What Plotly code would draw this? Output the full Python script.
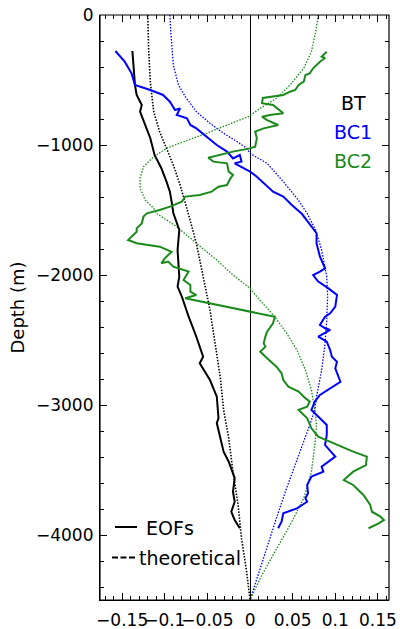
import plotly.graph_objects as go

# ---------------- data ----------------
bt_eof_x = [-0.138, -0.137, -0.135, -0.133, -0.127, -0.129, -0.123, -0.117, -0.112, -0.104,
            -0.098, -0.094, -0.092, -0.090, -0.083, -0.085, -0.083, -0.085, -0.080, -0.072,
            -0.063, -0.055, -0.059, -0.047, -0.039, -0.037, -0.039, -0.035, -0.031, -0.025,
            -0.021, -0.018, -0.020, -0.018, -0.022, -0.018, -0.012]
bt_eof_z = [-277, -385, -538, -615, -692, -744, -846, -948, -1077, -1179,
            -1282, -1359, -1436, -1523, -1654, -1808, -2013, -2090, -2167, -2321,
            -2475, -2628, -2679, -2808, -2936, -3102, -3138, -3254, -3359, -3436,
            -3513, -3562, -3667, -3744, -3821, -3885, -3948]

bc1_eof_x = [-0.158, -0.147, -0.139, -0.135, -0.117, -0.102, -0.094, -0.088, -0.082, -0.086,
             -0.074, -0.070, -0.063, -0.051, -0.039, -0.027, -0.020, -0.012, -0.010, -0.018,
             -0.004, 0.000, 0.008, 0.018, 0.027, 0.039, 0.049, 0.061, 0.072, 0.078,
             0.078, 0.082, 0.088, 0.082, 0.074, 0.080, 0.092, 0.102, 0.100, 0.094,
             0.088, 0.082, 0.088, 0.094, 0.080, 0.090, 0.094, 0.096, 0.102, 0.100,
             0.106, 0.094, 0.082, 0.076, 0.072, 0.082, 0.090, 0.090, 0.088, 0.100,
             0.092, 0.084, 0.086, 0.072, 0.067, 0.068, 0.065, 0.067, 0.055, 0.039,
             0.037, 0.033]
bc1_eof_z = [-277, -359, -449, -538, -577, -615, -667, -731, -718, -769,
             -795, -846, -872, -936, -1000, -1051, -1103, -1077, -1128, -1141,
             -1192, -1205, -1244, -1308, -1359, -1397, -1462, -1531, -1628, -1679,
             -1756, -1859, -1949, -1974, -2000, -2051, -2103, -2154, -2244, -2295,
             -2321, -2385, -2410, -2423, -2474, -2513, -2577, -2628, -2667, -2718,
             -2821, -2872, -2923, -2974, -3038, -3102, -3154, -3231, -3308, -3397,
             -3436, -3474, -3513, -3551, -3615, -3679, -3718, -3744, -3795, -3833,
             -3897, -3948]

bc2_eof_x = [0.090, 0.084, 0.088, 0.082, 0.074, 0.070, 0.065, 0.063, 0.057, 0.053,
             0.047, 0.039, 0.015, 0.014, 0.027, 0.039, 0.023, 0.014, 0.020, 0.033,
             0.016, 0.006, 0.008, 0.006, 0.000, -0.012, -0.020, -0.049, -0.043, -0.027,
             -0.025, -0.020, -0.023, -0.027, -0.037, -0.045, -0.059, -0.076, -0.080, -0.094,
             -0.106, -0.121, -0.125, -0.127, -0.133, -0.133, -0.137, -0.143, -0.133, -0.106,
             -0.092, -0.100, -0.104, -0.096, -0.090, -0.072, -0.078, -0.070, -0.070, -0.063,
             -0.076, 0.029, 0.027, 0.020, 0.018, 0.016, 0.018, 0.012, 0.020, 0.031,
             0.037, 0.039, 0.045, 0.057, 0.063, 0.070, 0.067, 0.057, 0.067, 0.072,
             0.080, 0.102, 0.121, 0.137, 0.136, 0.121, 0.110, 0.121, 0.133, 0.141,
             0.143, 0.153, 0.157, 0.151, 0.139]
bc2_eof_z = [-282, -321, -331, -359, -410, -449, -462, -513, -538, -577,
             -590, -615, -638, -679, -692, -756, -769, -782, -808, -846,
             -872, -897, -949, -1013, -1026, -1038, -1051, -1098, -1128, -1141,
             -1205, -1231, -1256, -1308, -1321, -1359, -1385, -1397, -1436, -1474,
             -1500, -1526, -1551, -1603, -1641, -1667, -1692, -1731, -1756, -1782,
             -1821, -1872, -1910, -1897, -1936, -1974, -2038, -2077, -2128, -2154,
             -2179, -2321, -2372, -2436, -2474, -2526, -2551, -2590, -2641, -2705,
             -2756, -2808, -2859, -2897, -2936, -2974, -3013, -3038, -3102, -3179,
             -3244, -3308, -3359, -3397, -3462, -3513, -3577, -3615, -3692, -3769,
             -3821, -3859, -3885, -3910, -3948]

bt_th_x = [-0.120, -0.119, -0.117, -0.113, -0.106, -0.098, -0.090, -0.082, -0.076, -0.072,
           -0.063, -0.055, -0.047, -0.041, -0.035, -0.031, -0.025, -0.020, -0.014, -0.010,
           -0.004, 0.000]
bt_th_z = [0, -256, -513, -744, -898, -1025, -1154, -1308, -1436, -1538,
           -1756, -2013, -2269, -2526, -2782, -3038, -3256, -3513, -3769, -4026,
           -4282, -4500]

bc1_th_x = [-0.094, -0.093, -0.090, -0.084, -0.076, -0.063, -0.047, -0.031, -0.015, -0.004,
            0.000, 0.020, 0.039, 0.055, 0.067, 0.077, 0.084, 0.090, 0.091, 0.090,
            0.088, 0.084, 0.078, 0.076, 0.070, 0.057, 0.043, 0.031, 0.018, 0.000]
bc1_th_z = [0, -128, -385, -538, -628, -744, -833, -910, -975, -1025,
            -1064, -1141, -1282, -1410, -1526, -1654, -1808, -2013, -2167, -2346,
            -2526, -2731, -2936, -3038, -3154, -3385, -3638, -3869, -4128, -4500]

bc2_th_x = [0.080, 0.077, 0.072, 0.063, 0.047, 0.031, 0.012, -0.002, -0.027, -0.051,
            -0.078, -0.098, -0.113, -0.125, -0.129, -0.129, -0.123, -0.113, -0.110, -0.086,
            -0.063, -0.039, -0.020, 0.000, 0.008, 0.029, 0.043, 0.055, 0.065, 0.072,
            0.076, 0.078, 0.076, 0.072, 0.063, 0.047, 0.027, 0.012, 0.000]
bc2_th_z = [0, -128, -282, -410, -538, -641, -718, -782, -846, -910,
            -975, -1025, -1090, -1167, -1256, -1333, -1423, -1487, -1525, -1628,
            -1756, -1885, -2000, -2103, -2167, -2321, -2449, -2577, -2731, -2885,
            -3038, -3154, -3308, -3513, -3718, -3923, -4154, -4333, -4500]

x_tickvals = [-0.15, -0.1, -0.05, 0, 0.05, 0.1, 0.15]
x_ticktext = ["\u22120.15", "\u22120.1", "\u22120.05", "0", "0.05", "0.1", "0.15"]
y_tickvals = [0, -1000, -2000, -3000, -4000]
y_ticktext = ["0", "\u22121000", "\u22122000", "\u22123000", "\u22124000"]

mode_labels = ["BT", "BC1", "BC2"]
style_labels = ["EOFs", "theoretical"]

BLACK = "#000000"
BLUE = "#0000ff"
GREEN = "#1a8a1a"
FONT = "DejaVu Sans"
DOT = "1.5px,1.5px"
X_RANGE = [-0.176, 0.163]
Y_RANGE = [-4500, 0]

# ---------------- figure ----------------
fig = go.Figure()

fig.add_trace(go.Scatter(x=bt_th_x, y=bt_th_z, mode="lines",
                         line=dict(color=BLACK, width=1.6, dash=DOT), showlegend=False))
fig.add_trace(go.Scatter(x=bc1_th_x, y=bc1_th_z, mode="lines",
                         line=dict(color=BLUE, width=1.3, dash=DOT), showlegend=False))
fig.add_trace(go.Scatter(x=bc2_th_x, y=bc2_th_z, mode="lines",
                         line=dict(color=GREEN, width=1.3, dash=DOT), showlegend=False))

fig.add_trace(go.Scatter(x=bt_eof_x, y=bt_eof_z, mode="lines",
                         line=dict(color=BLACK, width=2), showlegend=False))
fig.add_trace(go.Scatter(x=bc1_eof_x, y=bc1_eof_z, mode="lines",
                         line=dict(color=BLUE, width=2), showlegend=False))
fig.add_trace(go.Scatter(x=bc2_eof_x, y=bc2_eof_z, mode="lines",
                         line=dict(color=GREEN, width=2), showlegend=False))

W, H = 400, 629
ml, mr, mt, mb = 100, 11, 15, 29
pw, ph = W - ml - mr, H - mt - mb


def px(xs):  # screen x -> paper fraction
    return (xs - ml) / pw


def py(ys):  # screen y -> paper fraction
    return 1 - (ys - mt) / ph


# top-right colored labels
for txt, col, yc in zip(mode_labels, [BLACK, BLUE, GREEN], [102.5, 132.5, 160.5]):
    fig.add_annotation(x=px(353), y=py(yc), xref="paper", yref="paper", text=txt,
                       showarrow=False, xanchor="center", yanchor="middle",
                       font=dict(color=col, size=19, family=FONT))

# bottom-left style key
fig.add_shape(type="line", xref="paper", yref="paper",
              x0=px(115), x1=px(137), y0=py(527), y1=py(527),
              line=dict(color=BLACK, width=2))
fig.add_shape(type="line", xref="paper", yref="paper",
              x0=px(112), x1=px(135), y0=py(557.5), y1=py(557.5),
              line=dict(color=BLACK, width=2, dash="6px,2.5px"))
fig.add_annotation(x=px(144), y=py(528), xref="paper", yref="paper", text=style_labels[0],
                   showarrow=False, xanchor="left", yanchor="middle",
                   font=dict(color=BLACK, size=19, family=FONT))
fig.add_annotation(x=px(137), y=py(558), xref="paper", yref="paper", text=style_labels[1],
                   showarrow=False, xanchor="left", yanchor="middle",
                   font=dict(color=BLACK, size=19, family=FONT))

# plot frame
fig.add_shape(type="rect", xref="paper", yref="paper", x0=0, x1=1, y0=0, y1=1,
              line=dict(color=BLACK, width=1.2), fillcolor="rgba(0,0,0,0)", layer="above")

common_tick = dict(ticks="inside", ticklen=7, tickcolor=BLACK, tickwidth=1, showgrid=False)

fig.update_layout(
    width=W, height=H,
    margin=dict(l=ml, r=mr, t=mt, b=mb, pad=0),
    paper_bgcolor="white", plot_bgcolor="white",
    font=dict(family=FONT, size=16, color="black"),
    showlegend=False,
    xaxis=dict(
        range=X_RANGE, automargin=False,
        zeroline=True, zerolinecolor=BLACK, zerolinewidth=1,
        showline=True, linecolor=BLACK, linewidth=1.2,
        tickmode="array", tickvals=x_tickvals, ticktext=x_ticktext, tickangle=0,
        tickfont=dict(size=17, family=FONT, color=BLACK),
        ticklabelstandoff=4, ticklabeloverflow="allow",
        minor=dict(ticks="inside", ticklen=4, dtick=0.01, tick0=0, tickcolor=BLACK, showgrid=False),
        **common_tick,
    ),
    xaxis2=dict(
        range=X_RANGE, overlaying="x", side="top", anchor="y", automargin=False,
        zeroline=False, showline=False, showticklabels=False,
        tickmode="array", tickvals=x_tickvals,
        minor=dict(ticks="inside", ticklen=4, dtick=0.01, tick0=0, tickcolor=BLACK, showgrid=False),
        **common_tick,
    ),
    yaxis=dict(
        range=Y_RANGE, zeroline=False, automargin=False,
        showline=True, linecolor=BLACK, linewidth=1.2,
        tickmode="array", tickvals=y_tickvals, ticktext=y_ticktext,
        tickfont=dict(size=17, family=FONT, color=BLACK),
        ticklabelstandoff=2, ticklabeloverflow="allow",
        minor=dict(ticks="inside", ticklen=4, dtick=200, tick0=0, tickcolor=BLACK, showgrid=False),
        title=dict(text="Depth (m)", font=dict(size=18, family=FONT), standoff=6),
        **common_tick,
    ),
    yaxis2=dict(
        range=Y_RANGE, overlaying="y", side="right", anchor="x", automargin=False,
        zeroline=False, showline=False, showticklabels=False,
        tickmode="array", tickvals=y_tickvals,
        minor=dict(ticks="inside", ticklen=4, dtick=200, tick0=0, tickcolor=BLACK, showgrid=False),
        **common_tick,
    ),
)

# invisible trace to activate the mirrored tick axes (top and right)
fig.add_trace(go.Scatter(x=[X_RANGE[0]], y=[Y_RANGE[0]], xaxis="x2", yaxis="y2",
                         mode="markers", marker=dict(opacity=0), hoverinfo="skip",
                         showlegend=False))

# remove the browser's default 8px body margin so the figure sits at the page origin
fig.write_html("out.html", config={"displayModeBar": False},
               post_script="document.body.style.margin='0px';document.body.style.padding='0px';")
